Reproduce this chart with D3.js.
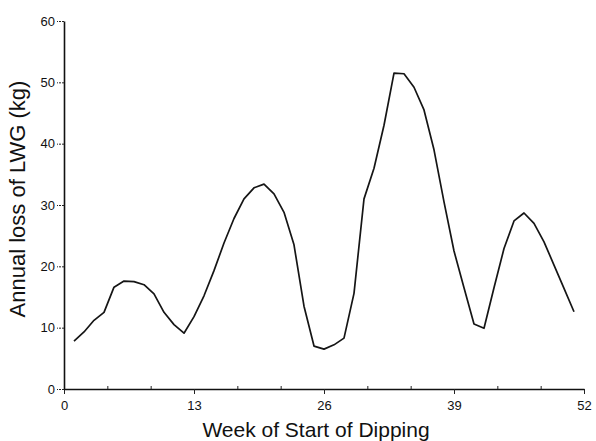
<!DOCTYPE html>
<html>
<head>
<meta charset="utf-8">
<script src="https://cdn.jsdelivr.net/npm/d3@7"></script>
<style>
  body { margin: 0; background: #fff; }
  svg { display: block; font-family: "Liberation Sans", Arial, sans-serif; }
</style>
</head>
<body>
<svg id="chart"></svg>
<script>
const width = 596;
const height = 441;

// weeks and annual loss
const weeks = d3.range(1, 52);
const loss = [
  7.8, 9.3, 11.2, 12.5, 16.6, 17.6, 17.5, 17.0, 15.5, 12.5,
  10.5, 9.1, 11.8, 15.2, 19.3, 23.8, 27.8, 31.0, 32.8, 33.4,
  31.8, 28.8, 23.5, 13.5, 7.0, 6.5, 7.2, 8.3, 15.6, 31.0,
  36.0, 43.0, 51.5, 51.4, 49.2, 45.5, 39.0, 30.5, 22.5, 16.5,
  10.6, 9.9, 16.5, 22.9, 27.4, 28.7, 27.0, 24.0, 20.2, 16.4,
  12.6
];
const xTicks = [0, 13, 26, 39, 52];
const xMinor = [13/3, 26/3, 52/3, 65/3, 91/3, 104/3, 130/3, 143/3];
const yTicks = [0, 10, 20, 30, 40, 50, 60];

const svg = d3.select("#chart")
    .attr("width", width)
    .attr("height", height);

svg.append("rect")
    .attr("width", width)
    .attr("height", height)
    .attr("fill", "#fff");

const x = d3.scaleLinear().domain([0, 52]).range([64, 584]);
const y = d3.scaleLinear().domain([0, 60]).range([389, 21]);

// x axis, major ticks pointing down
svg.append("g")
    .attr("transform", `translate(0,${y(0)})`)
    .call(d3.axisBottom(x).tickValues(xTicks).tickSize(5).tickSizeOuter(0).tickPadding(7));

// minor ticks pointing up
svg.append("g")
    .attr("transform", `translate(0,${y(0)})`)
    .call(d3.axisBottom(x).tickValues(xMinor).tickSize(-3).tickFormat(""))
    .select(".domain").remove();

const yAxis = svg.append("g")
    .attr("transform", `translate(${x(0)},0)`)
    .call(d3.axisLeft(y).tickValues(yTicks).tickSize(7).tickSizeOuter(0).tickPadding(2));

yAxis.selectAll(".tick line").attr("stroke-dasharray", "2,1");

svg.selectAll(".domain").attr("stroke", "#111").attr("stroke-width", 1.6);
svg.selectAll(".tick line").attr("stroke", "#222");
svg.selectAll(".tick text")
    .attr("fill", "#111")
    .style("font-size", "13px");

svg.append("text")
    .attr("x", 316)
    .attr("y", 437)
    .attr("text-anchor", "middle")
    .attr("fill", "#111")
    .style("font-size", "21px")
    .text("Week of Start of Dipping");

svg.append("text")
    .attr("transform", "translate(25,199) rotate(-90)")
    .attr("text-anchor", "middle")
    .attr("fill", "#111")
    .style("font-size", "22px")
    .text("Annual loss of LWG (kg)");

const line = d3.line()
    .x((d, i) => x(weeks[i]))
    .y(d => y(d));

svg.append("path")
    .datum(loss)
    .attr("d", line)
    .attr("fill", "none")
    .attr("stroke", "#151515")
    .attr("stroke-width", 1.7)
    .attr("stroke-linejoin", "round");
</script>
</body>
</html>
